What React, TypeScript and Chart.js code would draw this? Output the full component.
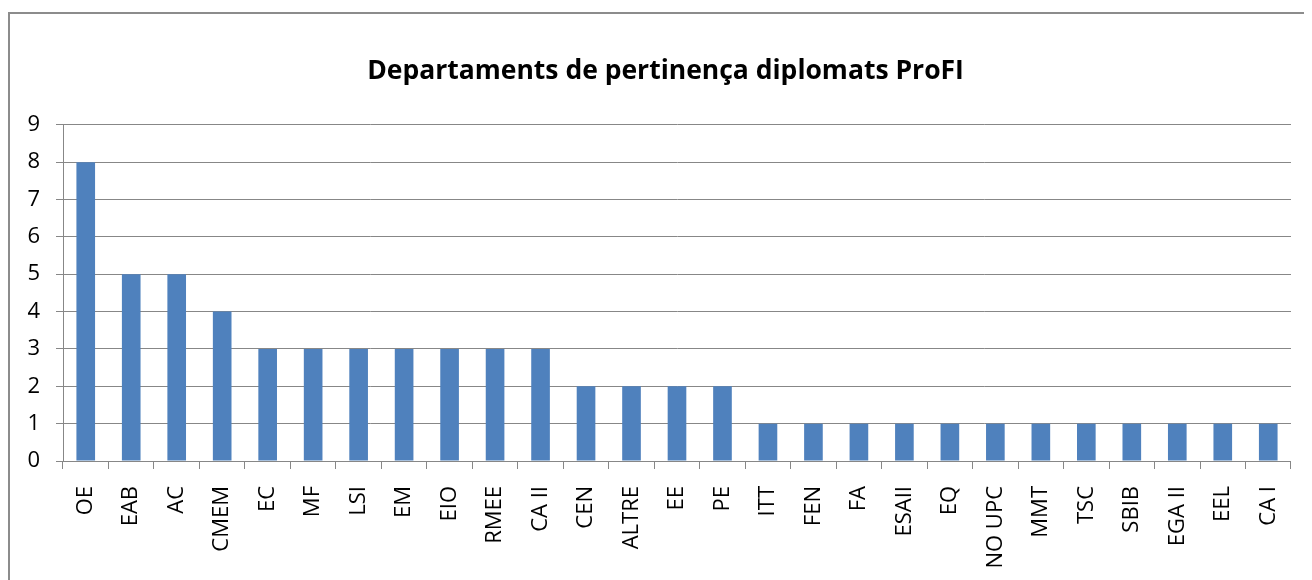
import React, { useEffect, useRef } from "react";
import { Chart, registerables } from "chart.js";

Chart.register(...registerables);

const categories = [
  "OE", "EAB", "AC", "CMEM", "EC", "MF", "LSI", "EM", "EIO", "RMEE", "CA II",
  "CEN", "ALTRE", "EE", "PE", "ITT", "FEN", "FA", "ESAII", "EQ", "NO UPC",
  "MMT", "TSC", "SBIB", "EGA II", "EEL", "CA I",
];
const values = [8, 5, 5, 4, 3, 3, 3, 3, 3, 3, 3, 2, 2, 2, 2, 1, 1, 1, 1, 1, 1, 1, 1, 1, 1, 1, 1];
const titleText = "Departaments de pertinença diplomats ProFI";
const yMin = 0;
const yMax = 9;

const FONT = "'Open Sans', 'Liberation Sans', sans-serif";
const GRID = "#878787";

const shiftTitle = {
  id: "shiftTitle",
  afterLayout(chart: any) {
    const t = chart.titleBlock;
    if (t) {
      t.left += 14;
      t.right += 14;
    }
  },
};

export default function App() {
  const ref = useRef<HTMLCanvasElement | null>(null);

  useEffect(() => {
    if (!ref.current) return;
    const chart = new Chart(ref.current, {
      type: "bar",
      data: {
        labels: categories,
        datasets: [
          {
            data: values,
            backgroundColor: "#4F81BD",
            barPercentage: 0.41,
            categoryPercentage: 1,
          },
        ],
      },
      plugins: [shiftTitle],
      options: {
        responsive: false,
        animation: false,
        layout: { padding: { left: 0, right: 19, top: 0, bottom: 0 } },
        plugins: {
          legend: { display: false },
          tooltip: { enabled: false },
          title: {
            display: true,
            text: titleText,
            color: "#000",
            font: { family: FONT, size: 26.5, weight: "bold" },
            padding: { top: 42, bottom: 37 },
          },
        },
        scales: {
          x: {
            grid: {
              drawOnChartArea: false,
              drawTicks: true,
              tickLength: 8,
              color: GRID,
              lineWidth: 1,
            },
            border: { display: true, color: GRID, width: 1 },
            ticks: {
              color: "#000",
              font: { family: FONT, size: 22 },
              maxRotation: 90,
              minRotation: 90,
              padding: 17,
              autoSkip: false,
            },
            afterFit: (scale: any) => {
              scale.height = 121;
            },
          },
          y: {
            min: yMin,
            max: yMax,
            grid: {
              color: GRID,
              lineWidth: 1,
              tickLength: 7,
              drawTicks: true,
            },
            border: { display: true, color: GRID, width: 1 },
            ticks: {
              stepSize: 1,
              color: "#000",
              font: { family: FONT, size: 22 },
              padding: 16,
            },
            afterFit: (scale: any) => {
              scale.width = 53;
            },
          },
        },
      },
    });
    return () => chart.destroy();
  }, []);

  return (
    <div
      style={{
        marginTop: 4,
        width: 1304,
        height: 570,
        borderLeft: "2px solid #8c8c8c",
        borderTop: "2px solid #8c8c8c",
        overflow: "hidden",
        boxSizing: "border-box",
      }}
    >
      <canvas ref={ref} width={1302} height={568} style={{ display: "block" }} />
    </div>
  );
}
